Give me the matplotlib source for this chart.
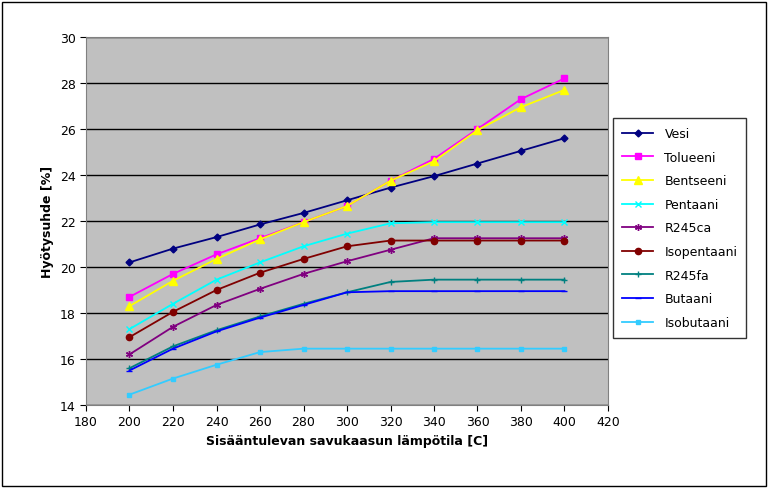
import matplotlib
matplotlib.use("Agg")
import matplotlib.pyplot as plt
from matplotlib.patches import Rectangle

temps = [200, 220, 240, 260, 280, 300, 320, 340, 360, 380, 400]
vesi = [20.2, 20.8, 21.3, 21.85, 22.35, 22.9, 23.45, 23.95, 24.5, 25.05, 25.6]
tolueeni = [18.7, 19.7, 20.55, 21.25, 21.95, 22.65, 23.75, 24.7, 26.0, 27.3, 28.2]
bentseeni = [18.3, 19.4, 20.35, 21.2, 21.95, 22.65, 23.75, 24.6, 25.95, 26.95, 27.7]
pentaani = [17.3, 18.4, 19.45, 20.2, 20.9, 21.45, 21.9, 21.95, 21.95, 21.95, 21.95]
r245ca = [16.2, 17.4, 18.35, 19.05, 19.7, 20.25, 20.75, 21.25, 21.25, 21.25, 21.25]
isopentaani = [16.95, 18.05, 19.0, 19.75, 20.35, 20.9, 21.15, 21.15, 21.15, 21.15, 21.15]
r245fa = [15.6, 16.55, 17.25, 17.85, 18.4, 18.9, 19.35, 19.45, 19.45, 19.45, 19.45]
butaani = [15.5, 16.45, 17.2, 17.8, 18.35, 18.9, 18.95, 18.95, 18.95, 18.95, 18.95]
isobutaani = [14.45, 15.15, 15.75, 16.3, 16.45, 16.45, 16.45, 16.45, 16.45, 16.45, 16.45]

series = [
    ("Vesi", vesi, "#000080", "D", 3.5),
    ("Tolueeni", tolueeni, "#FF00FF", "s", 4.5),
    ("Bentseeni", bentseeni, "#FFFF00", "^", 5.5),
    ("Pentaani", pentaani, "#00FFFF", "x", 4),
    ("R245ca", r245ca, "#800080", (6, 2, 0), 5),
    ("Isopentaani", isopentaani, "#800000", "o", 4.5),
    ("R245fa", r245fa, "#008080", "+", 5),
    ("Butaani", butaani, "#0000FF", "_", 4),
    ("Isobutaani", isobutaani, "#33CCFF", "s", 2.5),
]

W, H = 769, 489
fig = plt.figure(figsize=(W / 100, H / 100), dpi=100, facecolor="white")
fig.patches.append(Rectangle((2 / W, 2 / H), 1 - 5 / W, 1 - 5 / H, transform=fig.transFigure,
                             fill=False, edgecolor="black", linewidth=1))
ax = fig.add_axes([86 / W, 1 - 406 / H, (608 - 86) / W, (406 - 38) / H])
ax.set_facecolor("#C0C0C0")

for name, vals, col, mk, ms in series:
    ax.plot(temps, vals, color=col, marker=mk, markersize=ms, lw=1.3, label=name,
            markeredgecolor=col, markerfacecolor=col)

ax.set_xlim(180, 420)
ax.set_ylim(14, 30)
ax.set_xticks(range(180, 421, 20))
ax.set_yticks(range(14, 31, 2))
ax.yaxis.grid(True, color="black", lw=1)
ax.set_axisbelow(True)
ax.tick_params(labelsize=9, direction="out", length=4)
for s in ax.spines.values():
    s.set_color("#808080")
ax.set_xlabel("Sisääntulevan savukaasun lämpötila [C]", fontsize=9, fontweight="bold")
ax.set_ylabel("Hyötysuhde [%]", fontsize=9, fontweight="bold")

leg = fig.legend(loc="upper left", bbox_to_anchor=(607 / W, 1 - 113 / H), fontsize=9,
                 frameon=True, fancybox=False, edgecolor="black", labelspacing=0.85,
                 handlelength=2.5, borderpad=0.7, handletextpad=0.9)
leg.get_frame().set_linewidth(1)

fig.savefig("out.png", dpi=100, facecolor="white")
